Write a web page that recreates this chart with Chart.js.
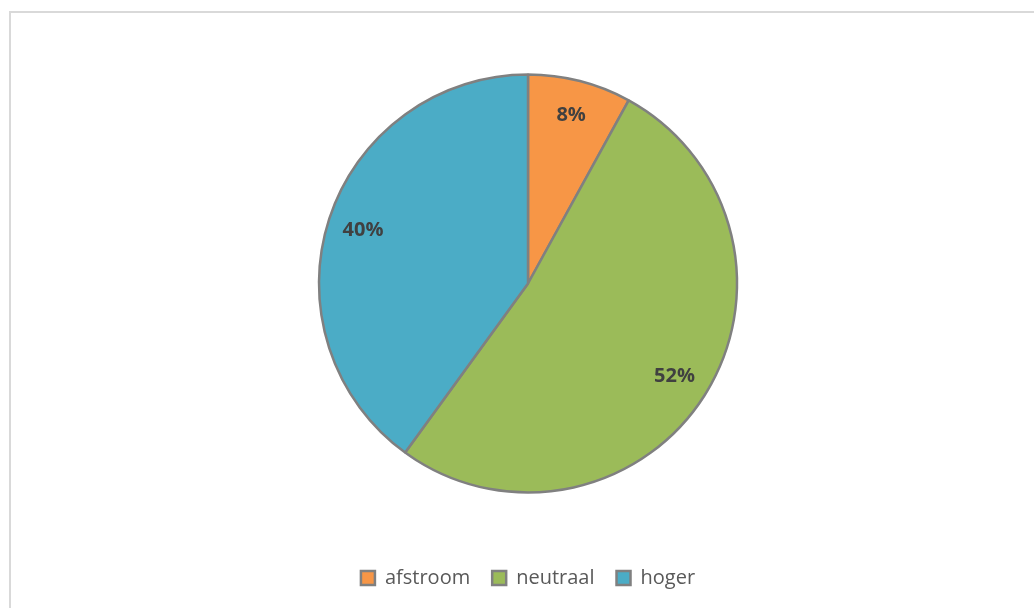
<!DOCTYPE html>
<html>
<head>
<meta charset="utf-8">
<script src="https://cdn.jsdelivr.net/npm/chart.js@4.4.0/dist/chart.umd.min.js"></script>
<style>
  html, body { margin: 0; padding: 0; background: #fff; overflow: hidden; }
  #frame { position: absolute; left: 9px; top: 11px; width: 1100px; height: 700px; border: 2px solid #d9d9d9; box-sizing: border-box; }
  #wrap { position: absolute; left: 0; top: 0; width: 1034px; height: 608px; }
</style>
</head>
<body>
<div id="frame"></div>
<div id="wrap"><canvas id="pieChart"></canvas></div>
<script>
// data
var categories = ["afstroom", "neutraal", "hoger"];
var shares = [8, 52, 40];
var sliceColors = ["#F79646", "#9BBB59", "#4BACC6"];

// percent labels inside the slices
var pctLabels = {
	id: 'pctLabels',
	afterDatasetsDraw: function(chart){
		var ctx = chart.ctx;
		var meta = chart.getDatasetMeta(0);
		var total = shares.reduce(function(a, b){ return a + b; }, 0);
		ctx.save();
		ctx.font = 'bold 20px "Open Sans"';
		ctx.fillStyle = '#404040';
		ctx.textAlign = 'center';
		ctx.textBaseline = 'middle';
		meta.data.forEach(function(arc, i){
			var p = arc.getProps(['x', 'y', 'startAngle', 'endAngle', 'outerRadius'], true);
			var mid = (p.startAngle + p.endAngle) / 2;
			var r = p.outerRadius * 0.83;
			ctx.fillText(Math.round(shares[i] / total * 100) + '%', p.x + Math.cos(mid) * r, p.y + Math.sin(mid) * r);
		});
		ctx.restore();
	}
};

var ctx = document.getElementById('pieChart').getContext('2d');
var myPieChart = new Chart(ctx, {
	type: 'pie',
	data: {
		labels: categories,
		datasets: [{
			data: shares,
			backgroundColor: sliceColors,
			borderColor: '#808080',
			borderWidth: 2.5,
			radius: 209
		}]
	},
	options: {
		responsive: true,
		maintainAspectRatio: false,
		animation: false,
		layout: { padding: { left: 22, right: 0, top: 21, bottom: 10 } },
		plugins: {
			tooltip: { enabled: false },
			legend: {
				position: 'bottom',
				labels: {
					boxWidth: 14,
					boxHeight: 14,
					padding: 22,
					color: '#595959',
					font: { family: '"Open Sans"', size: 20 }
				}
			}
		}
	},
	plugins: [pctLabels]
});
</script>
</body>
</html>
